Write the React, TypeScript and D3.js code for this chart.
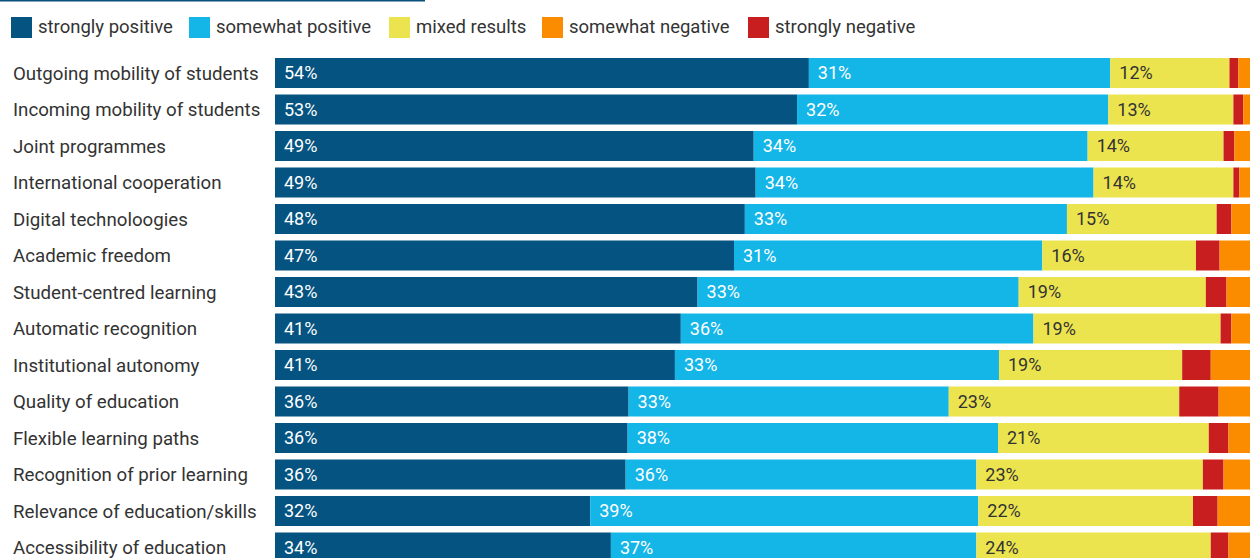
import React from "react";
import * as d3 from "d3";

const categories = [
  "Outgoing mobility of students",
  "Incoming mobility of students",
  "Joint programmes",
  "International cooperation",
  "Digital technoloogies",
  "Academic freedom",
  "Student-centred learning",
  "Automatic recognition",
  "Institutional autonomy",
  "Quality of education",
  "Flexible learning paths",
  "Recognition of prior learning",
  "Relevance of education/skills",
  "Accessibility of education",
];

const seriesNames = [
  "strongly positive",
  "somewhat positive",
  "mixed results",
  "somewhat negative",
  "strongly negative",
];

const stronglyPositive = [54.2, 53.0, 48.6, 48.8, 47.7, 46.6, 42.9, 41.2, 40.6, 35.9, 35.8, 35.6, 32.0, 34.1];
const somewhatPositive = [30.6, 31.6, 33.9, 34.3, 32.7, 31.3, 32.6, 35.8, 32.9, 32.5, 37.6, 35.6, 39.4, 37.1];
const mixedResults = [12.1, 12.7, 13.8, 14.2, 15.2, 15.6, 19.0, 19.0, 18.6, 23.4, 21.4, 23.0, 21.8, 23.8];
const stronglyNegative = [0.9, 1.0, 1.1, 0.6, 1.5, 2.4, 2.1, 1.1, 2.9, 4.0, 2.0, 2.1, 2.5, 1.8];
const somewhatNegative = [2.2, 1.7, 2.6, 2.1, 2.9, 4.1, 3.4, 2.9, 5.0, 4.2, 3.2, 3.7, 4.3, 3.2];

const colors: Record<string, string> = {
  "strongly positive": "#055380",
  "somewhat positive": "#14b5e7",
  "mixed results": "#ece44f",
  "somewhat negative": "#fb8c00",
  "strongly negative": "#c91e1f",
};

// stacking order in the bars
const stackOrder = ["strongly positive", "somewhat positive", "mixed results", "strongly negative", "somewhat negative"];
const labelled = new Set(["strongly positive", "somewhat positive", "mixed results"]);

const rows = categories.map((c, i) => ({
  category: c,
  "strongly positive": stronglyPositive[i],
  "somewhat positive": somewhatPositive[i],
  "mixed results": mixedResults[i],
  "strongly negative": stronglyNegative[i],
  "somewhat negative": somewhatNegative[i],
}));

const W = 1250;
const H = 558;
const FONT = "Roboto, 'Noto Sans', sans-serif";

export default function App() {
  const x = d3.scaleLinear().domain([0, 100]).range([275, 1260]);
  const y = d3
    .scaleBand()
    .domain(categories)
    .range([54.75, 54.75 + 36.5 * categories.length])
    .paddingInner(6.5 / 36.5)
    .paddingOuter(6.5 / 36.5 / 2);

  const stacked = d3.stack<any>().keys(stackOrder)(rows as any);

  const legendX = [11, 189, 389, 542, 748];

  return (
    <svg
      width={W}
      height={H}
      style={{ position: "absolute", left: 0, top: 0, background: "#fff" }}
      fontFamily={FONT}
    >
      <rect x={0} y={0} width={425} height={1.5} fill="#0b4f7c" />
      {seriesNames.map((s, i) => (
        <g key={s} transform={`translate(${legendX[i]},17)`}>
          <rect width={21} height={21} fill={colors[s]} />
          <text x={27} y={16} fontSize={18.5} fill="#333">
            {s}
          </text>
        </g>
      ))}
      {categories.map((c) => (
        <text key={c} x={13} y={(y(c) as number) + y.bandwidth() / 2 + 6.5} fontSize={18.7} fill="#333">
          {c}
        </text>
      ))}
      {stacked.map((layer) => (
        <g key={layer.key} fill={colors[layer.key]}>
          {layer.map((d, i) => (
            <rect
              key={i}
              x={x(d[0])}
              y={y(categories[i])}
              width={x(d[1]) - x(d[0])}
              height={y.bandwidth()}
            />
          ))}
        </g>
      ))}
      {stacked
        .filter((l) => labelled.has(l.key))
        .map((layer) =>
          layer.map((d, i) => (
            <text
              key={layer.key + i}
              x={x(d[0]) + 9}
              y={(y(categories[i]) as number) + y.bandwidth() / 2 + 6.3}
              fontSize={18}
              fill={layer.key === "mixed results" ? "#333" : "#fff"}
            >
              {Math.round(d[1] - d[0])}%
            </text>
          ))
        )}
    </svg>
  );
}
